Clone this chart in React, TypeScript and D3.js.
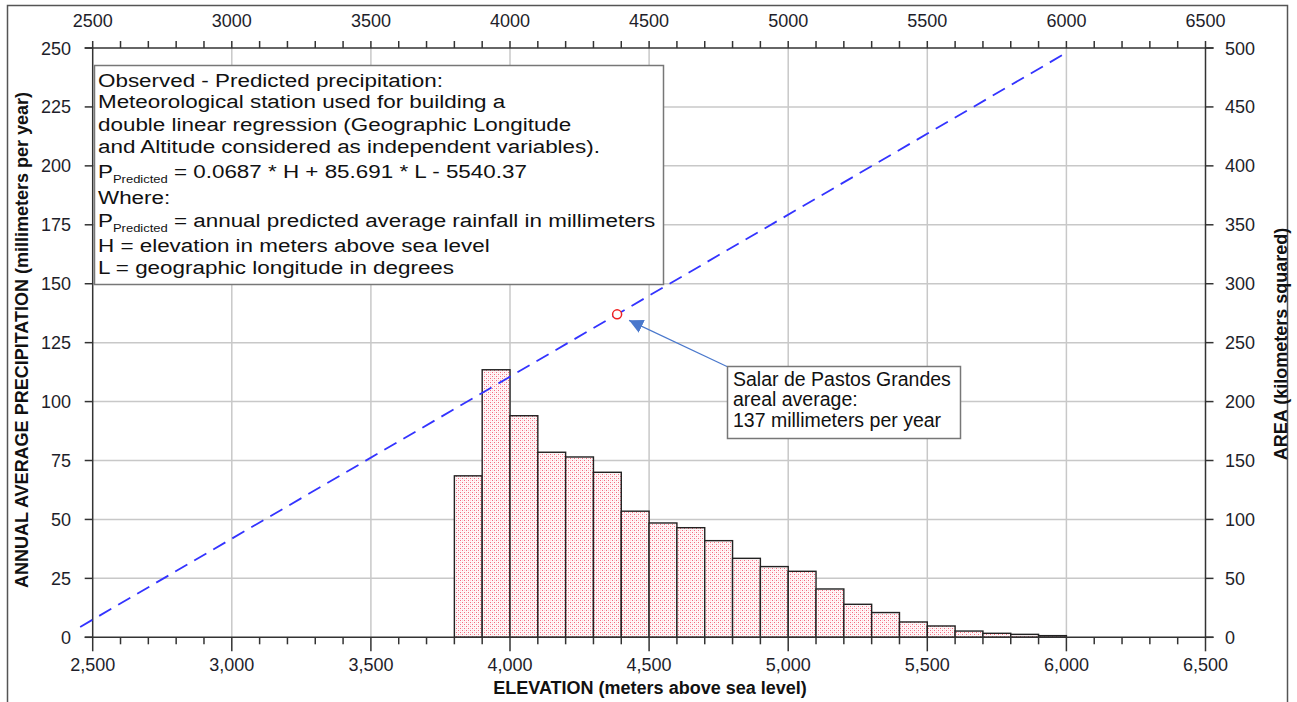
import React from "react";
import * as d3 from "d3";

// elevation bins (lower edge, m) and basin area per bin (km²)
const binLower = [
  3800, 3900, 4000, 4100, 4200, 4300, 4400, 4500, 4600, 4700, 4800,
  4900, 5000, 5100, 5200, 5300, 5400, 5500, 5600, 5700, 5800, 5900,
];
const binWidth = 100;
const areaKm2 = [
  137, 227, 188, 157, 153, 140, 107, 97, 93, 82, 67,
  60, 56, 41, 28, 21, 13, 9.6, 5.3, 3.4, 2.5, 1.4,
];

// regression line endpoints (elevation, precip)
const lineElevation = [2455, 6000];
const linePrecip = [4.4, 248];

// areal average point
const avgElevation = 4385;
const avgPrecip = 137;

const bottomTicks = [2500, 3000, 3500, 4000, 4500, 5000, 5500, 6000, 6500];
const leftTicks = [0, 25, 50, 75, 100, 125, 150, 175, 200, 225, 250];
const rightTicks = [0, 50, 100, 150, 200, 250, 300, 350, 400, 450, 500];

const boxLines: { text: string; sub?: string; rest?: string }[] = [
  { text: "Observed - Predicted precipitation:" },
  { text: "Meteorological station used for building a" },
  { text: "double linear regression (Geographic Longitude" },
  { text: "and Altitude considered as independent variables)." },
  { text: "P", sub: "Predicted", rest: " = 0.0687 * H + 85.691 * L - 5540.37" },
  { text: "Where:" },
  { text: "P", sub: "Predicted", rest: " = annual predicted average rainfall in millimeters" },
  { text: "H = elevation in meters above sea level" },
  { text: "L = geographic longitude in degrees" },
];
const boxBaselines = [87, 108, 131, 153, 178, 204, 227, 252, 274];

const noteLines = ["Salar de Pastos Grandes", "areal average:", "137 millimeters per year"];

const W = 1297;
const H = 702;
const FONT = "'Liberation Sans', Arial, sans-serif";

export default function App() {
  const x = d3.scaleLinear().domain([2500, 6500]).range([92.7, 1205.5]);
  const yL = d3.scaleLinear().domain([0, 250]).range([637.3, 48]);
  const yR = d3.scaleLinear().domain([0, 500]).range([637.3, 48]);

  const minor = d3.range(2500, 6501, 100);
  const line = d3
    .line<number>()
    .x((d) => x(d))
    .y((_, i) => yL(linePrecip[i]));

  const [x0, x1] = x.range();
  const [yb, yt] = yL.range();
  const px = x(avgElevation);
  const py = yL(avgPrecip);

  return (
    <svg
      width={W}
      height={H}
      style={{ position: "absolute", left: 0, top: 0, background: "#fff" }}
      fontFamily={FONT}
    >
      <defs>
        <pattern id="dots" width={4} height={4} patternUnits="userSpaceOnUse">
          <rect width={4} height={4} fill="#fff7f8" />
          <rect x={0} y={0} width={1} height={1} fill="#f46a7e" />
          <rect x={2} y={2} width={1} height={1} fill="#f46a7e" />
          <rect x={2} y={0} width={1} height={1} fill="#fbd0d6" />
          <rect x={0} y={2} width={1} height={1} fill="#fbd0d6" />
        </pattern>
        <marker
          id="arrow"
          viewBox="0 0 10 10"
          refX={10}
          refY={5}
          markerWidth={14}
          markerHeight={14}
          markerUnits="userSpaceOnUse"
          orient="auto"
        >
          <path d="M0,0L10,5L0,10z" fill="#4a78cc" />
        </marker>
      </defs>

      {/* outer frame */}
      <rect x={7.5} y={5.5} width={1280} height={720} fill="none" stroke="#555" strokeWidth={1.5} />

      {/* grid */}
      {bottomTicks.slice(1, -1).map((t) => (
        <line key={"gx" + t} x1={x(t)} x2={x(t)} y1={yt} y2={yb} stroke="#c8c8c8" strokeWidth={1.5} />
      ))}
      {leftTicks.slice(1, -1).map((t) => (
        <line key={"gy" + t} x1={x0} x2={x1} y1={yL(t)} y2={yL(t)} stroke="#c8c8c8" strokeWidth={1.5} />
      ))}

      {/* bars */}
      {binLower.map((b, i) => (
        <rect
          key={"bar" + b}
          x={x(b)}
          y={yR(areaKm2[i])}
          width={x(b + binWidth) - x(b)}
          height={yR(0) - yR(areaKm2[i])}
          fill="url(#dots)"
          stroke="#222"
          strokeWidth={1.4}
        />
      ))}

      {/* axes */}
      <g stroke="#333" strokeWidth={1.5}>
        <line x1={x0} x2={x0} y1={yt} y2={yb} />
        <line x1={x1} x2={x1} y1={yt} y2={yb} />
        <line x1={x0 - 8} x2={x1 + 8} y1={yb} y2={yb} />
        <line x1={x0 - 8} x2={x1 + 8} y1={yt} y2={yt} />
        {minor.map((t) => (
          <line key={"bt" + t} x1={x(t)} x2={x(t)} y1={yb} y2={yb + (t % 500 === 0 ? 14 : 7)} />
        ))}
        {minor.map((t) => (
          <line key={"tt" + t} x1={x(t)} x2={x(t)} y1={yt} y2={yt - 7} />
        ))}
        {leftTicks.map((t) => (
          <line key={"lt" + t} x1={x0 - 8} x2={x0} y1={yL(t)} y2={yL(t)} />
        ))}
        {rightTicks.map((t) => (
          <line key={"rt" + t} x1={x1} x2={x1 + 8} y1={yR(t)} y2={yR(t)} />
        ))}
      </g>

      {/* tick labels */}
      <g fontSize={18} fill="#1e1e2a">
        {bottomTicks.map((t) => (
          <text key={"bl" + t} x={x(t)} y={671} textAnchor="middle">
            {d3.format(",")(t)}
          </text>
        ))}
        {bottomTicks.map((t) => (
          <text key={"tl" + t} x={x(t)} y={27} textAnchor="middle">
            {t}
          </text>
        ))}
        {leftTicks.map((t) => (
          <text key={"ll" + t} x={71} y={yL(t) + 6.5} textAnchor="end">
            {t}
          </text>
        ))}
        {rightTicks.map((t) => (
          <text key={"rl" + t} x={1225} y={yR(t) + 6.5} textAnchor="start">
            {t}
          </text>
        ))}
      </g>

      {/* axis titles */}
      <g fontSize={18} fontWeight="bold" fill="#111">
        <text x={650} y={694} textAnchor="middle">
          ELEVATION (meters above sea level)
        </text>
        <text transform="translate(28,340) rotate(-90)" textAnchor="middle">
          ANNUAL AVERAGE PRECIPITATION (millimeters per year)
        </text>
        <text transform="translate(1287,344) rotate(-90)" textAnchor="middle">
          AREA (kilometers squared)
        </text>
      </g>

      {/* regression line */}
      <path
        d={line(lineElevation) ?? ""}
        fill="none"
        stroke="#3333ff"
        strokeWidth={1.8}
        strokeDasharray="14 8"
      />

      {/* average point */}
      <circle cx={px} cy={py} r={4.5} fill="#fff" stroke="#f02020" strokeWidth={1.5} />

      {/* equation box */}
      <rect x={94.5} y={65.5} width={569} height={219} fill="#fff" stroke="#777" strokeWidth={1.5} />
      <g fontSize={19} fill="#111" transform="translate(98,0) scale(1.18,1)">
        {boxLines.map((l, i) => (
          <text key={"bx" + i} x={0} y={boxBaselines[i]}>
            {l.text}
            {l.sub && (
              <tspan fontSize={11} dy={5}>
                {l.sub}
              </tspan>
            )}
            {l.rest && <tspan dy={-5}>{l.rest}</tspan>}
          </text>
        ))}
      </g>

      {/* note */}
      <line
        x1={728}
        y1={367}
        x2={px + 12}
        y2={py + 6}
        stroke="#4a78cc"
        strokeWidth={1.2}
        markerEnd="url(#arrow)"
      />
      <rect x={727.5} y={366.5} width={233} height={72} fill="#fff" stroke="#777" strokeWidth={1.5} />
      <g fontSize={19.5} fill="#111">
        {noteLines.map((t, i) => (
          <text key={"nt" + i} x={733} y={385.5 + i * 20.5}>
            {t}
          </text>
        ))}
      </g>
    </svg>
  );
}
